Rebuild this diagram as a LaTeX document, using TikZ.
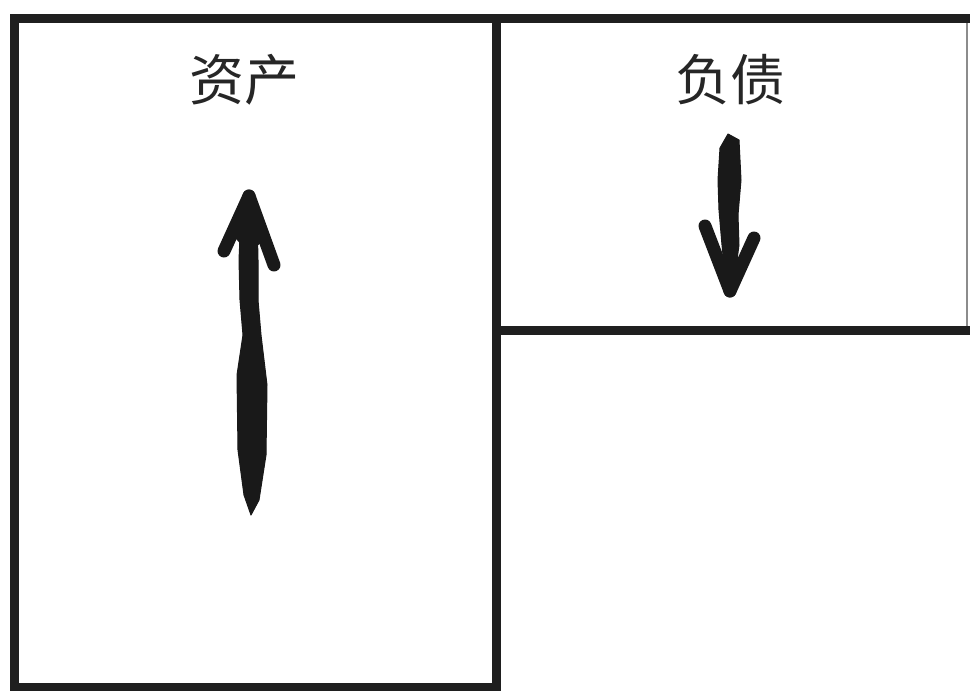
\documentclass[tikz,border=0pt]{standalone}
\usepackage{fontspec}
\newfontfamily\cjk{Noto Sans CJK SC}
\tikzset{
  frameline/.style={line width=9pt, draw=black!88},
  thinframe/.style={line width=2pt, draw=black!45},
  inkfill/.style={fill=black!90, draw=black!90, line width=1pt, line join=round},
  barb/.style={line width=13pt, draw=black!90, line cap=round},
  title/.style={font=\cjk\fontsize{55}{55}\selectfont, text=black!85, inner sep=0pt}
}
\begin{document}
\begin{tikzpicture}[x=1pt,y=-1pt]
\useasboundingbox[fill=white] (0,0) rectangle (970,691);
% frames
\draw[thinframe] (967,18) -- (967,330);
\draw[frameline] (10,18) -- (970,18);
\draw[frameline] (14,14) -- (14,691);
\draw[frameline] (10,687) -- (500,687);
\draw[frameline] (496,14) -- (496,691);
\draw[frameline] (492,330) -- (970,330);
% titles
\node[title] (assets) at (244,80) {资产};
\node[title] (liab) at (730,80) {负债};
% left arrow (up)
\coordinate (ltip) at (249,196);
\fill[inkfill] (241,214) -- (239,260) -- (240,300) -- (243,335) -- (237,375) -- (238,450) -- (244,495) -- (251,515) -- (259,500) -- (266,455) -- (267,385) -- (261,335) -- (258,300) -- (258,260) -- (257,214) -- cycle;
\fill[inkfill] (ltip) -- (236,238) -- (248,252) -- (264,240) -- cycle;
\draw[barb] (ltip) -- (224,251);
\draw[barb] (ltip) -- (274,265);
% right arrow (down)
\coordinate (rtip) at (730,291);
\fill[inkfill] (720,148) -- (728,134) -- (739,140) -- (741,180) -- (738,215) -- (739,245) -- (735,275) -- (725,275) -- (722,245) -- (719,210) -- (718,180) -- cycle;
\fill[inkfill] (rtip) -- (717,252) -- (730,262) -- (744,255) -- cycle;
\draw[barb] (rtip) -- (705,226);
\draw[barb] (rtip) -- (754,238);
\end{tikzpicture}
\end{document}
